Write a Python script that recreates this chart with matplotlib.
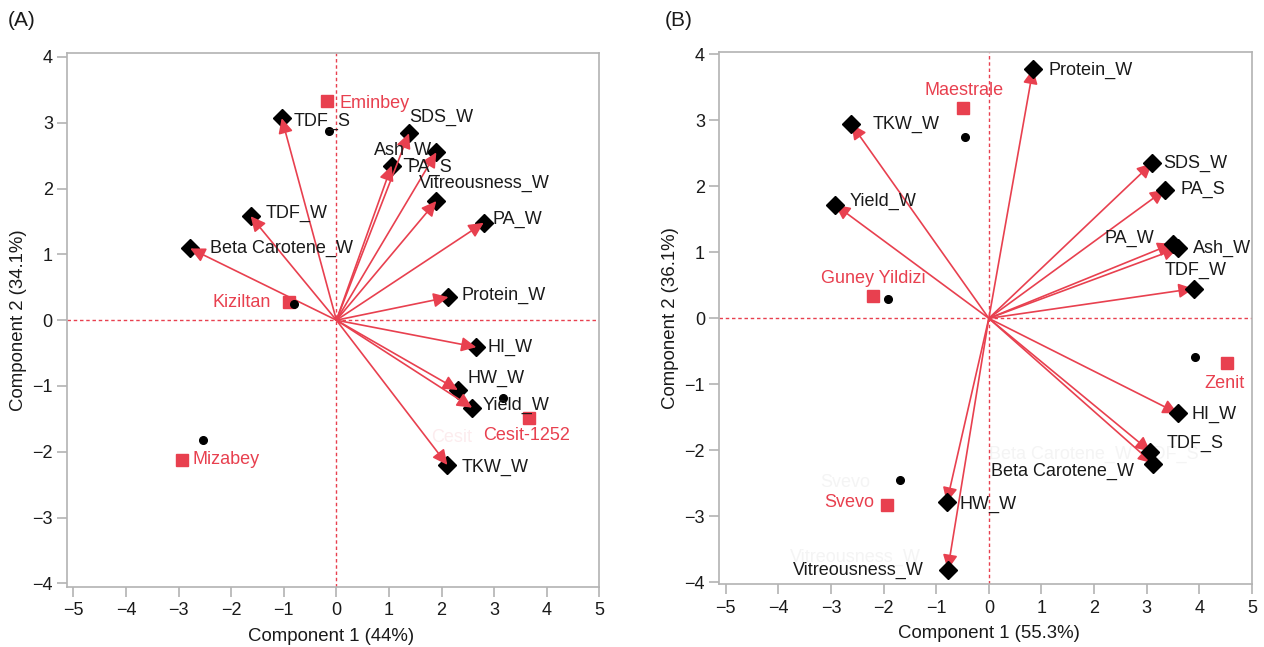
import matplotlib
matplotlib.use("Agg")
import matplotlib.pyplot as plt
from matplotlib.patches import ArrowStyle

plt.rcParams['font.family'] = ['Liberation Sans', 'DejaVu Sans']

RED = '#E8404F'
GRID = '#b3b3b3'

# ---- panel A data (Component 1 = 44%, Component 2 = 34.1%) ----
a_var_names = ['TDF_S', 'SDS_W', 'Ash_W', 'PA_S', 'Vitreousness_W', 'PA_W', 'TDF_W',
               'Beta Carotene_W', 'Protein_W', 'HI_W', 'HW_W', 'Yield_W', 'TKW_W']
a_var_x = [-1.04, 1.38, 1.90, 1.05, 1.90, 2.80, -1.63, -2.78, 2.13, 2.66, 2.31, 2.58, 2.11]
a_var_y = [3.07, 2.84, 2.55, 2.35, 1.81, 1.48, 1.58, 1.09, 0.35, -0.41, -1.06, -1.33, -2.20]

a_geno_names = ['Eminbey', 'Kiziltan', 'Cesit-1252', 'Mizabey']
a_geno_x = [-0.17, -0.90, 3.67, -2.93]
a_geno_y = [3.33, 0.28, -1.48, -2.12]

a_dot_x = [-0.14, -0.81, 3.16, -2.54]
a_dot_y = [2.88, 0.24, -1.19, -1.82]

# ---- panel B data (Component 1 = 55.3%, Component 2 = 36.1%) ----
b_var_names = ['Protein_W', 'TKW_W', 'Yield_W', 'SDS_W', 'PA_S', 'PA_W', 'Ash_W', 'TDF_W',
               'HI_W', 'TDF_S', 'Beta Carotene_W', 'HW_W', 'Vitreousness_W']
b_var_x = [0.84, -2.61, -2.92, 3.10, 3.35, 3.49, 3.59, 3.89, 3.59, 3.07, 3.12, -0.80, -0.78]
b_var_y = [3.78, 2.94, 1.72, 2.35, 1.95, 1.13, 1.06, 0.45, -1.44, -2.02, -2.20, -2.79, -3.81]

b_geno_names = ['Maestrale', 'Guney Yildizi', 'Zenit', 'Svevo']
b_geno_x = [-0.50, -2.20, 4.53, -1.94]
b_geno_y = [3.18, 0.34, -0.67, -2.83]

b_dot_x = [-0.45, -1.91, 3.91, -1.69]
b_dot_y = [2.75, 0.29, -0.58, -2.45]

# label placement: (dx px, dy px downwards, alignment)
a_var_lab = [(12, 3, 'left'), (0, -16, 'left'), (-4, -2, 'right'), (16, 2, 'left'),
             (-17, -18, 'left'), (9, -3, 'left'), (15, -3, 'left'), (20, 0, 'left'),
             (13, -2, 'left'), (11, 0, 'left'), (10, -12, 'left'), (11, -2, 'left'),
             (14, 2, 'left')]
a_geno_lab = [(12, 2, 'left'), (-18, 1, 'right'), (-3, 18, 'center'), (10, 0, 'left')]
b_var_lab = [(15, 2, 'left'), (21, 0, 'left'), (15, -3, 'left'), (11, 0, 'left'),
             (15, 0, 'left'), (-18, -5, 'right'), (15, 0, 'left'), (2, -18, 'center'),
             (14, 1, 'left'), (16, -8, 'left'), (-19, 8, 'right'), (13, 2, 'left'),
             (-24, 1, 'right')]
b_geno_lab = [(2, -18, 'center'), (0, -17, 'center'), (-3, 21, 'center'), (-13, -3, 'right')]

# faint leftover labels visible in the background
a_ghost = [(1.81, -1.78, 'Cesit', '#fcecee')]
b_ghost = [(0.0, -2.06, 'Beta Carotene_W  TDF_S', '#f4f4f4'),
           (-3.21, -2.48, 'Svevo', '#f4f4f4'),
           (-3.77, -3.63, 'Vitreousness_W', '#f4f4f4')]

HEAD = ArrowStyle('-|>', head_length=0.45, head_width=0.22)


def biplot(ax, vx, vy, vnames, vlab, gx, gy, gnames, glab, dx, dy, ghosts,
           ylim, arrows_on_top, xlabel, ylabel, xlab_pos):
    ax.set_xlim(-5.127, 5.0)
    ax.set_ylim(*ylim)
    ax.axhline(0, color=RED, lw=1.0, ls=(0, (2.5, 2)), zorder=1)
    ax.axvline(0, color=RED, lw=1.0, ls=(0, (2.5, 2)), zorder=1)

    for x, y, t, c in ghosts:
        ax.text(x, y, t, color=c, fontsize=13, va='center', ha='left', zorder=0)

    dz = 2 if arrows_on_top else 5
    ax.plot(vx, vy, 'D', color='black', ms=9, zorder=dz)
    for x, y in zip(vx, vy):
        ax.annotate('', xy=(x, y), xytext=(0, 0), zorder=3,
                    arrowprops=dict(arrowstyle=HEAD, color=RED, lw=1.2,
                                    mutation_scale=20, shrinkA=0, shrinkB=0))
    ax.plot(gx, gy, 's', color=RED, ms=8, zorder=4)
    ax.plot(dx, dy, 'o', color='black', ms=5.5, zorder=4)

    for x, y, t, (ox, oy, ha) in zip(vx, vy, vnames, vlab):
        ax.annotate(t, (x, y), xytext=(ox, -oy), textcoords='offset pixels',
                    ha=ha, va='center', fontsize=13, color='#1a1a1a', zorder=6)
    for x, y, t, (ox, oy, ha) in zip(gx, gy, gnames, glab):
        ax.annotate(t, (x, y), xytext=(ox, -oy), textcoords='offset pixels',
                    ha=ha, va='center', fontsize=13, color=RED, zorder=6)

    ax.set_xticks(range(-5, 6))
    ax.set_yticks(range(-4, 5))
    ax.set_xticklabels([f'{v}'.replace('-', '\u2212') for v in range(-5, 6)])
    ax.set_yticklabels([f'{v}'.replace('-', '\u2212') for v in range(-4, 5)])
    ax.tick_params(direction='out', length=7, width=1.2, color=GRID,
                   labelsize=13, labelcolor='#1a1a1a')
    ax.tick_params(axis='x', pad=4)
    ax.tick_params(axis='y', pad=3)
    ax.xaxis.get_major_ticks()[5].tick1line.set_color(RED)
    ax.yaxis.get_major_ticks()[4].tick1line.set_color(RED)
    for s in ax.spines.values():
        s.set_color(GRID)
        s.set_linewidth(1.2)

    ax.set_xlabel(xlabel, fontsize=13.4, color='#1a1a1a')
    ax.set_ylabel(ylabel, fontsize=13.4, color='#1a1a1a')
    ax.xaxis.set_label_coords(xlab_pos, -0.077)
    ax.yaxis.set_label_coords(-0.075, 0.5)


fig = plt.figure(figsize=(12.64, 6.47), dpi=100)
ax_a = fig.add_axes([0.0528, 0.0932, 0.4214, 0.8249])
ax_b = fig.add_axes([0.5688, 0.0969, 0.4217, 0.8227])

biplot(ax_a, a_var_x, a_var_y, a_var_names, a_var_lab, a_geno_x, a_geno_y,
       a_geno_names, a_geno_lab, a_dot_x, a_dot_y, a_ghost, (-4.05, 4.06), True,
       'Component 1 (44%)', 'Component 2 (34.1%)', 0.497)
biplot(ax_b, b_var_x, b_var_y, b_var_names, b_var_lab, b_geno_x, b_geno_y,
       b_geno_names, b_geno_lab, b_dot_x, b_dot_y, b_ghost, (-4.03, 4.035), False,
       'Component 1 (55.3%)', 'Component 2 (36.1%)', 0.507)

fig.text(8 / 1264, 1 - 20 / 647, '(A)', fontsize=15, va='center', ha='left', color='#1a1a1a')
fig.text(665 / 1264, 1 - 20 / 647, '(B)', fontsize=15, va='center', ha='left', color='#1a1a1a')

fig.savefig('out.png', dpi=100)
